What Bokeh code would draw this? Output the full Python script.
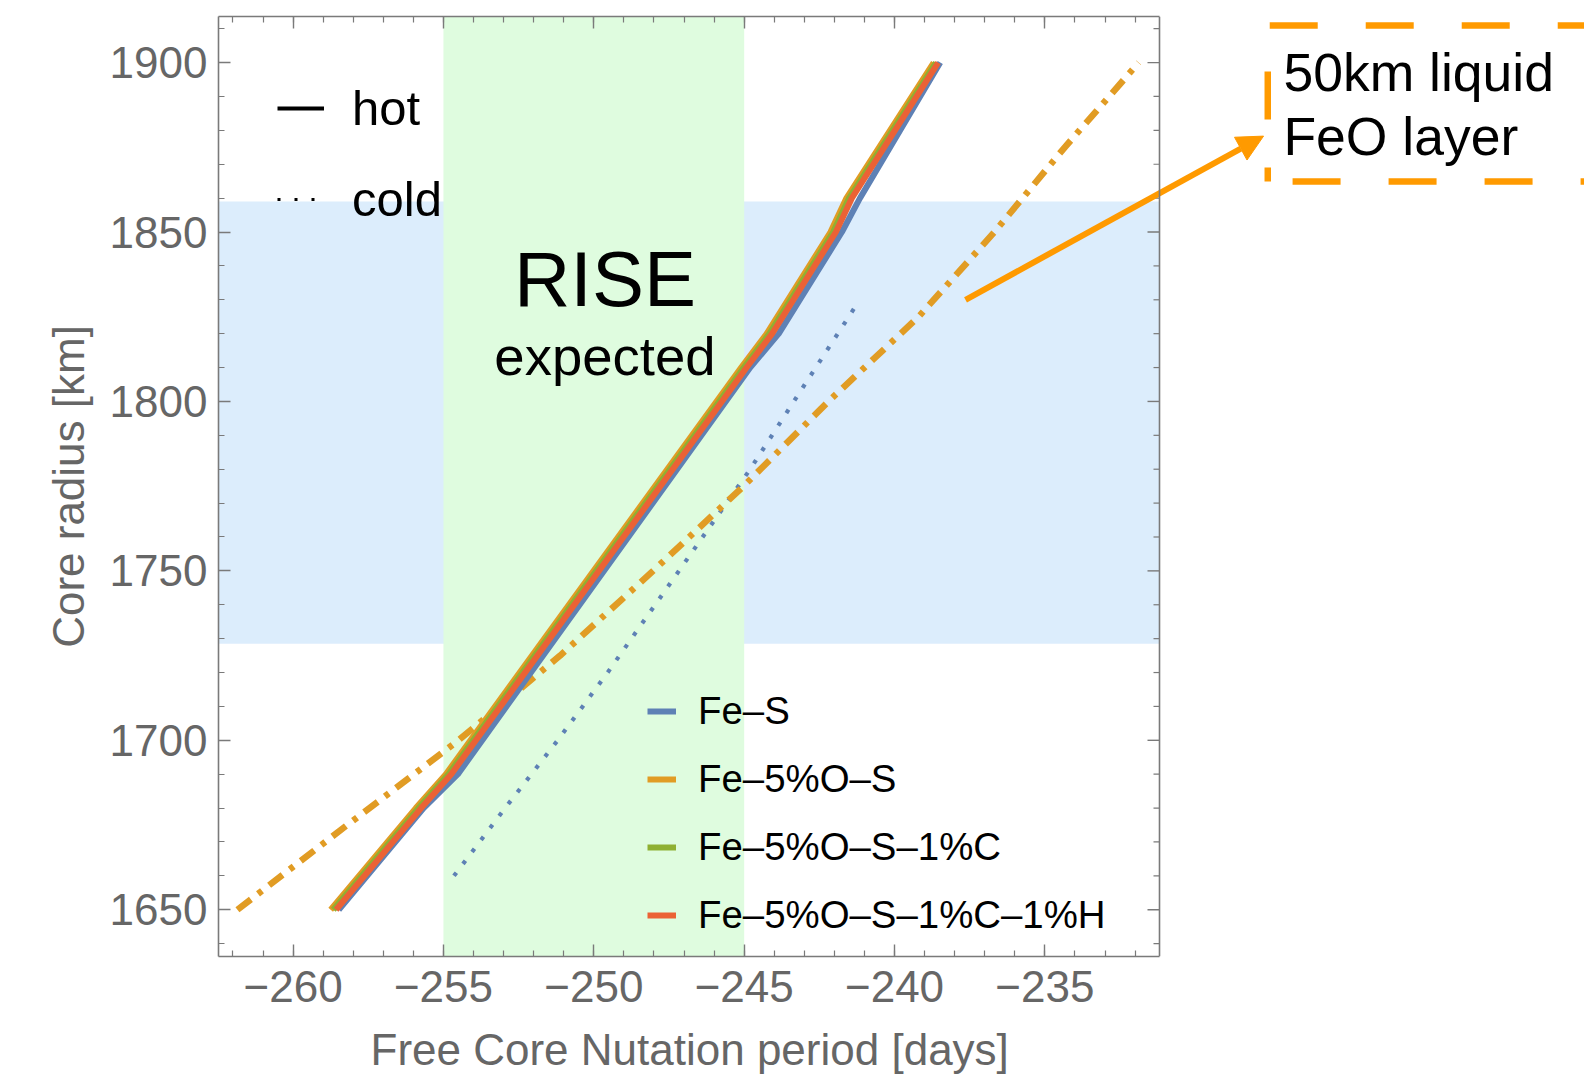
import numpy as np
from bokeh.plotting import figure
from bokeh.models import (Range1d, LinearAxis, SingleIntervalTicker, BoxAnnotation,
                          Legend, LegendItem, Label, Arrow, NormalHead, PolyAnnotation,
                          ColumnDataSource, Span, CustomLabelingPolicy, Title)
from bokeh.embed import file_html
from bokeh.resources import INLINE

# ---------------- data ----------------
# hot models: core radius [km] vs FCN period [days]
hot_radius = [1650, 1680, 1690, 1810, 1820, 1850, 1860, 1900]
fes_hot = [-258.48, -255.66, -254.52, -244.80, -243.85, -241.75, -241.15, -238.48]
feos_hot = [-258.75, -255.92, -254.92, -245.10, -244.25, -242.13, -241.60, -238.70]
feosc_hot = [-258.66, -255.83, -254.83, -245.01, -244.16, -242.04, -241.51, -238.62]
feosch_hot = [-258.57, -255.74, -254.74, -244.92, -244.07, -241.95, -241.42, -238.55]

# cold Fe-S model (dotted)
cold_radius = [1660, 1680, 1700, 1720, 1740, 1760, 1780, 1800, 1829]
fes_cold = [-254.65, -252.95, -251.20, -249.54, -247.96, -246.38, -244.80, -243.35, -241.23]

# model with 50 km liquid FeO layer (dash-dot)
feo_radius = [1650, 1675, 1700, 1725, 1750, 1775, 1800, 1825, 1850, 1875, 1900]
feo_fcn = [-261.85, -258.20, -254.50, -251.12, -248.03, -245.02, -242.20, -239.20,
           -236.68, -234.34, -231.88]

series_names = ["Fe–S", "Fe–5%O–S", "Fe–5%O–S–1%C", "Fe–5%O–S–1%C–1%H"]
series_colors = ["#5E81B5", "#E19C24", "#8FB032", "#EB6235"]

rise_band = [-255, -245]
radius_band = [1728.5, 1859]

x_ticks = [-260, -255, -250, -245, -240, -235]
x_tick_labels = ["−260", "−255", "−250", "−245", "−240", "−235"]
y_ticks = [1650, 1700, 1750, 1800, 1850, 1900]
y_tick_labels = ["1650", "1700", "1750", "1800", "1850", "1900"]
y_minor_ticks = [v for v in range(1640, 1911, 10) if v % 50]

# ---------------- layout ----------------
FONT = "Liberation Sans"
AXIS_GRAY = "#7a7a7a"
TEXT_GRAY = "#666666"
ANNOT = "#FF9A00"

X_MIN, X_AXIS_END = -262.48, -231.19      # visible axis box
Y_MIN, Y_MAX = 1636.2, 1913.6
AXIS_W, FRAME_W, FRAME_H = 941, 1366, 940
X_VIEW_END = X_MIN + (X_AXIS_END - X_MIN) * FRAME_W / AXIS_W

p = figure(frame_width=FRAME_W, frame_height=FRAME_H,
           min_border_left=218, min_border_right=0,
           min_border_top=16, min_border_bottom=120,
           x_range=Range1d(X_MIN, X_VIEW_END), y_range=Range1d(Y_MIN, Y_MAX),
           output_backend="svg", toolbar_location=None,
           x_axis_type=None, y_axis_type=None)
p.background_fill_color = "white"
p.border_fill_color = "white"
p.outline_line_color = None
p.xgrid.grid_line_color = None
p.ygrid.grid_line_color = None


def make_axis(ticks, labels, step, show, bounds="auto"):
    ax = LinearAxis(ticker=SingleIntervalTicker(interval=step, num_minor_ticks=5),
                    bounds=bounds)
    ax.axis_line_color = AXIS_GRAY
    ax.axis_line_width = 1.6
    ax.major_tick_line_color = AXIS_GRAY
    ax.minor_tick_line_color = AXIS_GRAY
    ax.major_tick_line_width = 1.4
    ax.minor_tick_line_width = 1.2
    ax.major_tick_in = 12
    ax.major_tick_out = 0
    ax.minor_tick_in = 6
    ax.minor_tick_out = 0
    if show:
        ax.major_label_overrides = {t: l for t, l in zip(ticks, labels)}
        ax.major_label_text_font = FONT
        ax.major_label_text_font_size = "44px"
        ax.major_label_text_color = TEXT_GRAY
        ax.axis_label_text_font = FONT
        ax.axis_label_text_font_size = "44px"
        ax.axis_label_text_font_style = "normal"
        ax.axis_label_text_color = TEXT_GRAY
    else:
        ax.major_label_policy = CustomLabelingPolicy(code="return []")
        ax.major_label_standoff = 0
    return ax


xb = make_axis(x_ticks, x_tick_labels, 5, True, bounds=(X_MIN, X_AXIS_END))
xb.major_label_standoff = 14
yl = make_axis(y_ticks, y_tick_labels, 50, True)
yl.axis_label = "Core radius [km]"
yl.major_label_standoff = 11
yl.axis_label_standoff = 14
p.add_layout(xb, "below")
p.add_layout(yl, "left")
p.add_layout(make_axis(x_ticks, x_tick_labels, 5, False, bounds=(X_MIN, X_AXIS_END)), "above")

# x axis title, centred under the visible axis box
p.add_layout(Title(text="Free Core Nutation period [days]", align="left", offset=152,
                   standoff=36, text_font=FONT, text_font_size="44px",
                   text_font_style="normal", text_color=TEXT_GRAY), "below")

# right frame edge with inward ticks
p.add_layout(Span(location=X_AXIS_END, dimension="height", line_color=AXIS_GRAY,
                  line_width=1.6, level="overlay"))

# bands
p.add_layout(BoxAnnotation(bottom=radius_band[0], top=radius_band[1], right=X_AXIS_END,
                           fill_color="#DCEDFC", fill_alpha=1.0, line_alpha=0,
                           level="underlay"))
p.add_layout(BoxAnnotation(left=rise_band[0], right=rise_band[1],
                           fill_color="#DFFCDF", fill_alpha=1.0, line_alpha=0,
                           level="underlay"))

p.ray(x=[X_AXIS_END] * len(y_ticks), y=y_ticks, length=12, length_units="screen",
      angle=np.pi, line_color=AXIS_GRAY, line_width=1.4)
p.ray(x=[X_AXIS_END] * len(y_minor_ticks), y=y_minor_ticks, length=6,
      length_units="screen", angle=np.pi, line_color=AXIS_GRAY, line_width=1.2)

# curves
p.line(fes_cold, cold_radius, line_color=series_colors[0], line_width=4.2,
       line_dash="4 11")
p.line(feo_fcn, feo_radius, line_color=series_colors[1], line_width=6.5,
       line_dash="17 9 5 9")

hot_renderers = []
for xs, c in zip([fes_hot, feos_hot, feosc_hot, feosch_hot], series_colors):
    r = p.line(xs, hot_radius, line_color=c, line_width=6, line_join="round")
    hot_renderers.append(r)

# legend for compositions
leg2 = Legend(items=[LegendItem(label=n, renderers=[r])
                     for n, r in zip(series_names, hot_renderers)],
              location=(429, 18), orientation="vertical",
              glyph_width=29, glyph_height=46, label_height=46, label_standoff=22,
              spacing=22, padding=0, margin=0,
              label_text_font=FONT, label_text_font_size="38.4px",
              label_text_color="black",
              border_line_alpha=0, background_fill_alpha=0)
p.add_layout(leg2)

# legend for hot / cold (style keys only)
keysrc = ColumnDataSource(data=dict(x=[float("nan")], y=[float("nan")]))
r_hot = p.line("x", "y", source=keysrc, line_color="black", line_width=4)
r_cold = p.line("x", "y", source=keysrc, line_color="black", line_width=3,
                line_dash="3 14")
leg1 = Legend(items=[LegendItem(label="hot", renderers=[r_hot]),
                     LegendItem(label="cold", renderers=[r_cold])],
              location=(59, 729), orientation="vertical",
              glyph_width=47, glyph_height=56, label_height=56, label_standoff=28,
              spacing=35, padding=0, margin=0,
              label_text_font=FONT, label_text_font_size="49px",
              label_text_color="black",
              border_line_alpha=0, background_fill_alpha=0)
p.add_layout(leg1)

# RISE label
p.add_layout(Label(x=-249.63, y=1836.2, text="RISE", text_align="center",
                   text_baseline="alphabetic", text_font=FONT,
                   text_font_size="78px", text_color="black"))
p.add_layout(Label(x=-249.63, y=1813.4, text="expected", text_align="center",
                   text_baseline="alphabetic", text_font=FONT,
                   text_font_size="54.5px", text_color="black"))

# annotation: arrow + dashed box + text
p.add_layout(Arrow(x_start=-237.64, y_start=1830.0, x_end=-227.73, y_end=1878.3,
                   line_color=ANNOT, line_width=6,
                   end=NormalHead(size=26, fill_color=ANNOT, line_color=ANNOT,
                                  line_width=1)))
p.add_layout(PolyAnnotation(xs=[-227.59, -227.59, -205.0, -205.0],
                            ys=[1864.9, 1910.95, 1910.95, 1864.9],
                            fill_alpha=0, line_color=ANNOT, line_alpha=1.0,
                            line_width=6.5, line_dash="48 48", line_dash_offset=34))
p.add_layout(Label(x=-227.07, y=1897.2, text="50km liquid",
                   text_baseline="alphabetic", text_font=FONT,
                   text_font_size="53.5px", text_color="black"))
p.add_layout(Label(x=-227.07, y=1878.2, text="FeO layer",
                   text_baseline="alphabetic", text_font=FONT,
                   text_font_size="53.5px", text_color="black"))

html = file_html(p, INLINE)
html = html.replace("</head>",
                    "<style>html,body{margin:0;padding:0;overflow:hidden;}</style></head>", 1)
open("out.html", "w").write(html)
